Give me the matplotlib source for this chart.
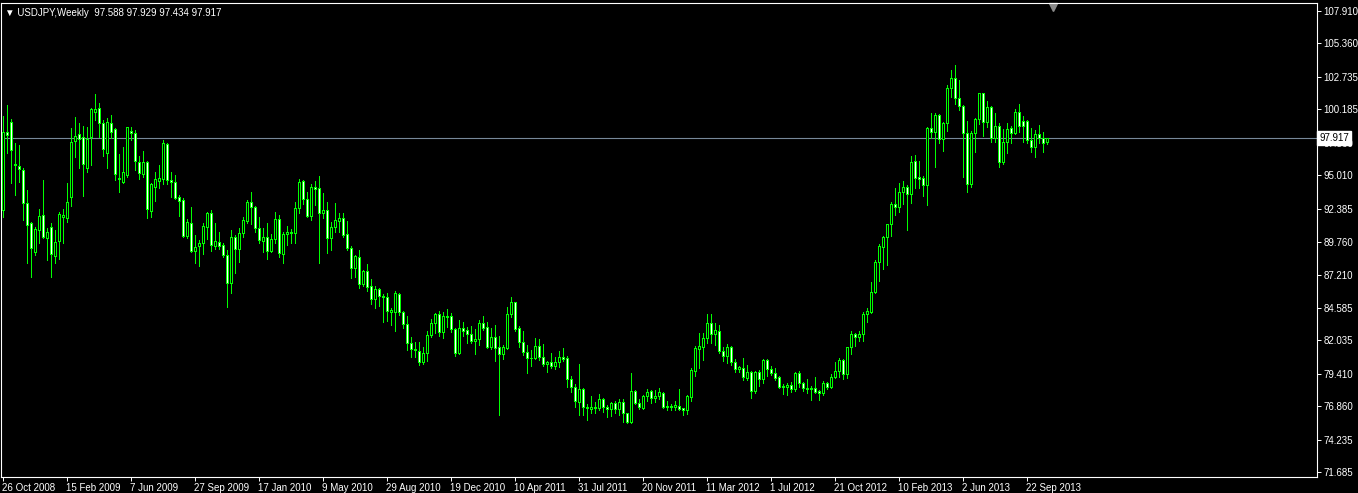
import matplotlib
matplotlib.use('Agg')
import matplotlib.pyplot as plt
import matplotlib.transforms as mtransforms

# weekly USDJPY candles, 26 Oct 2008 .. 27 Oct 2013
opens = [
    92.28, 98.43, 99.22, 95.87, 95.76, 95.42, 92.80, 91.23, 89.01, 90.71,
    91.86, 90.05, 90.92, 88.69, 89.87, 91.70, 91.63, 93.33, 97.73, 98.22,
    97.99, 95.55, 97.99, 100.00, 100.26, 99.09, 96.73, 99.14, 98.62, 94.77,
    94.51, 95.03, 98.48, 98.30, 96.08, 95.08, 96.03, 92.23, 94.11, 94.56,
    94.69, 97.47, 94.64, 94.45, 93.28, 93.07, 90.24, 91.29, 89.09, 89.48,
    89.66, 90.97, 92.02, 89.48, 89.79, 89.53, 88.75, 86.52, 90.13, 89.19,
    90.45, 91.44, 92.88, 92.49, 90.84, 89.87, 90.14, 89.09, 89.98, 91.55,
    88.83, 90.37, 90.53, 90.45, 92.41, 94.56, 93.12, 91.84, 94.06, 93.98,
    92.02, 92.28, 90.06, 90.92, 91.45, 91.63, 90.37, 89.32, 87.70, 88.57,
    86.44, 87.49, 86.31, 85.27, 86.08, 85.55, 85.42, 84.25, 84.25, 85.68,
    84.24, 83.30, 81.81, 81.33, 81.23, 80.31, 81.07, 82.43, 83.38, 84.08,
    82.72, 83.98, 83.95, 82.91, 81.02, 82.98, 82.85, 82.51, 82.02, 82.15,
    83.38, 83.06, 81.54, 82.28, 81.49, 80.94, 81.47, 84.08, 85.03, 82.98,
    81.94, 81.16, 80.69, 80.63, 81.60, 80.77, 80.16, 80.32, 80.03, 80.37,
    80.77, 80.63, 78.99, 78.36, 77.23, 78.20, 76.79, 76.68, 76.79, 76.76,
    77.44, 76.84, 76.63, 77.15, 76.66, 77.21, 76.31, 75.66, 78.07, 77.10,
    76.76, 77.68, 78.07, 77.55, 77.70, 77.88, 76.78, 76.88, 76.83, 76.91,
    76.70, 76.57, 77.62, 79.66, 81.36, 81.54, 82.25, 83.38, 82.51, 82.80,
    81.23, 80.84, 81.49, 80.31, 79.76, 79.90, 79.11, 79.58, 78.06, 79.58,
    78.98, 80.50, 79.76, 79.45, 79.14, 78.40, 78.40, 78.53, 78.19, 79.45,
    78.66, 78.32, 78.27, 78.27, 78.06, 77.88, 78.66, 78.40, 79.19, 79.63,
    80.50, 79.37, 81.49, 82.54, 82.28, 82.51, 84.08, 84.29, 85.81, 88.17,
    89.40, 90.13, 91.15, 92.72, 92.49, 93.66, 94.11, 93.51, 96.13, 94.90,
    94.77, 94.25, 98.70, 98.39, 99.75, 97.86, 99.09, 101.84, 102.68, 101.06,
    100.45, 98.31, 94.30, 98.31, 99.43, 101.45, 99.17, 100.35, 97.91, 98.88,
    96.03, 97.60, 98.70, 98.31, 99.96, 99.28, 99.28, 97.78, 97.21, 98.26,
    97.91, 97.588]

highs = [
    99.66, 100.53, 99.40, 97.52, 97.38, 95.55, 93.85, 91.36, 90.97, 92.33,
    94.64, 90.84, 91.23, 90.71, 92.15, 92.33, 94.37, 98.69, 99.56, 99.09,
    98.88, 98.77, 100.26, 101.39, 100.66, 99.35, 99.48, 99.74, 98.69, 96.68,
    97.25, 98.82, 98.82, 98.56, 96.52, 96.92, 96.10, 94.38, 95.29, 95.82,
    97.78, 97.57, 95.29, 95.03, 93.46, 93.25, 91.57, 92.49, 90.32, 89.93,
    91.23, 92.10, 92.28, 91.23, 90.53, 89.66, 89.14, 90.71, 90.32, 90.89,
    91.76, 93.07, 93.72, 92.60, 91.76, 90.89, 91.24, 90.40, 92.10, 91.89,
    90.58, 91.05, 90.79, 92.94, 94.72, 94.64, 93.72, 94.33, 94.56, 94.95,
    93.64, 92.94, 91.37, 92.86, 92.02, 92.02, 91.42, 89.46, 88.75, 89.14,
    87.57, 88.04, 86.84, 86.31, 86.18, 85.69, 85.79, 84.56, 85.92, 85.73,
    84.35, 83.95, 82.28, 81.88, 81.88, 81.49, 82.78, 83.69, 84.16, 84.35,
    84.24, 84.50, 84.16, 83.00, 83.64, 83.51, 83.11, 83.17, 82.91, 83.64,
    83.95, 83.51, 82.98, 83.25, 82.38, 81.68, 84.69, 85.42, 85.08, 83.17,
    82.78, 81.68, 81.29, 82.21, 82.13, 81.76, 80.43, 81.03, 80.71, 81.21,
    81.42, 80.82, 79.25, 78.59, 80.19, 78.28, 77.05, 77.68, 77.23, 77.83,
    77.49, 76.97, 77.23, 77.28, 77.44, 77.41, 76.37, 79.51, 78.15, 77.44,
    77.75, 78.20, 78.15, 78.15, 78.27, 77.96, 77.28, 77.04, 77.28, 78.22,
    76.75, 77.75, 79.90, 81.60, 82.59, 82.64, 84.11, 84.08, 83.38, 83.25,
    81.54, 81.73, 81.62, 80.55, 80.05, 80.63, 80.10, 79.63, 79.66, 79.71,
    80.55, 80.55, 80.03, 79.90, 79.24, 78.61, 78.72, 78.79, 79.58, 79.63,
    78.79, 79.00, 78.45, 79.16, 78.14, 78.85, 78.74, 79.37, 80.31, 80.63,
    80.55, 81.54, 82.77, 82.64, 82.77, 84.29, 84.55, 86.60, 88.35, 89.61,
    90.23, 91.20, 92.88, 93.98, 94.37, 94.55, 94.24, 96.52, 96.61, 96.13,
    94.96, 98.83, 99.88, 99.88, 99.83, 99.22, 102.10, 103.28, 103.67, 102.50,
    100.53, 99.28, 98.49, 99.54, 101.50, 101.50, 100.85, 100.45, 99.88, 99.09,
    98.65, 99.09, 98.88, 100.19, 100.59, 99.67, 99.32, 98.75, 98.57, 98.96,
    98.39, 97.929]

lows = [
    91.76, 96.73, 94.43, 93.46, 94.51, 91.49, 88.14, 87.04, 88.75, 89.66,
    90.05, 88.35, 87.04, 88.14, 88.43, 89.66, 91.36, 92.59, 96.47, 95.55,
    93.41, 95.29, 95.81, 99.35, 98.04, 96.55, 95.55, 97.91, 94.64, 93.72,
    94.37, 94.90, 97.78, 95.42, 94.72, 94.90, 91.68, 91.71, 93.01, 93.98,
    94.32, 94.32, 93.33, 93.12, 91.81, 90.13, 90.06, 89.01, 88.15, 87.91,
    88.80, 89.98, 89.09, 89.19, 89.19, 88.56, 84.69, 85.79, 87.31, 88.22,
    90.13, 91.23, 91.18, 90.53, 89.72, 89.01, 88.43, 89.01, 89.66, 88.62,
    88.09, 89.53, 89.66, 89.72, 92.02, 92.73, 91.76, 91.50, 92.67, 88.15,
    91.68, 88.88, 89.14, 90.58, 90.58, 90.14, 89.14, 86.92, 87.05, 86.13,
    86.31, 85.92, 84.90, 84.61, 84.74, 83.51, 83.57, 83.25, 82.81, 84.03,
    83.04, 81.28, 80.76, 80.76, 80.10, 80.18, 80.42, 82.33, 82.64, 82.41,
    82.25, 83.11, 82.67, 80.81, 80.97, 82.38, 81.81, 81.86, 80.97, 81.67,
    82.85, 81.47, 81.33, 80.44, 76.18, 80.58, 81.33, 83.85, 82.80, 81.54,
    80.89, 79.51, 80.03, 80.56, 80.50, 80.03, 79.59, 79.90, 79.80, 79.98,
    80.43, 78.41, 78.02, 76.84, 76.18, 76.18, 75.79, 76.31, 76.31, 76.58,
    76.45, 76.05, 76.11, 76.31, 76.18, 75.66, 75.53, 75.53, 77.02, 76.66,
    76.66, 77.31, 77.10, 77.23, 77.41, 76.70, 76.57, 76.57, 76.57, 76.57,
    76.20, 76.30, 77.30, 79.24, 79.90, 80.50, 81.86, 81.86, 81.68, 81.07,
    80.42, 80.24, 80.10, 79.58, 79.58, 78.93, 78.93, 77.54, 77.93, 78.46,
    78.72, 79.24, 79.32, 78.93, 78.27, 77.83, 77.75, 78.01, 78.09, 78.40,
    78.06, 77.88, 77.35, 77.88, 77.35, 77.75, 78.19, 78.27, 79.06, 79.19,
    78.98, 79.11, 80.97, 81.62, 82.01, 82.01, 83.51, 84.21, 85.73, 86.70,
    87.64, 87.96, 90.23, 91.88, 92.15, 92.75, 90.71, 92.85, 93.99, 93.99,
    93.41, 92.68, 97.91, 95.69, 97.52, 96.92, 98.49, 101.19, 100.59, 100.14,
    94.90, 93.73, 94.12, 96.87, 99.04, 98.12, 98.83, 97.65, 97.60, 95.69,
    95.90, 96.79, 97.52, 98.26, 98.39, 97.65, 97.52, 96.87, 96.48, 97.52,
    96.87, 97.434]

closes = [
    98.43, 98.17, 96.99, 95.81, 95.47, 92.80, 91.10, 89.27, 90.76, 91.81,
    90.13, 90.53, 88.82, 89.74, 91.94, 91.89, 92.93, 97.59, 98.12, 97.83,
    95.87, 97.83, 100.19, 100.19, 99.14, 97.04, 99.17, 98.38, 95.08, 94.69,
    95.24, 98.77, 98.30, 96.13, 95.16, 96.03, 92.33, 94.30, 94.69, 94.77,
    97.52, 94.64, 94.45, 93.25, 93.01, 90.24, 91.31, 89.09, 89.40, 89.66,
    91.02, 92.02, 89.51, 89.85, 89.48, 88.75, 86.52, 90.13, 89.19, 90.45,
    91.50, 92.91, 92.49, 90.84, 89.93, 90.13, 89.09, 89.98, 91.55, 88.88,
    90.40, 90.58, 90.45, 92.41, 94.51, 93.12, 91.84, 94.06, 93.96, 92.02,
    92.28, 90.06, 90.92, 91.50, 91.63, 90.32, 89.27, 87.70, 88.67, 86.44,
    87.49, 86.26, 85.27, 86.05, 85.53, 85.42, 84.38, 84.43, 85.74, 84.24,
    83.30, 81.81, 81.33, 81.25, 80.31, 81.07, 82.46, 83.38, 84.08, 82.72,
    83.95, 83.90, 82.91, 81.02, 82.98, 82.80, 82.51, 82.02, 82.12, 83.38,
    83.04, 81.54, 82.28, 81.47, 80.94, 81.49, 84.08, 85.03, 82.93, 81.94,
    81.15, 80.69, 80.63, 81.60, 80.77, 80.16, 80.32, 80.03, 80.37, 80.77,
    80.58, 78.99, 78.36, 77.28, 78.20, 76.79, 76.71, 76.79, 76.71, 77.44,
    76.84, 76.63, 77.10, 76.66, 77.21, 76.31, 75.66, 78.07, 77.10, 76.79,
    77.68, 78.02, 77.55, 77.70, 77.96, 76.78, 76.88, 76.83, 76.96, 76.65,
    76.57, 77.67, 79.71, 81.42, 81.60, 82.25, 83.38, 82.51, 82.85, 81.23,
    80.84, 81.49, 80.31, 79.76, 79.97, 79.14, 79.53, 78.06, 79.53, 78.98,
    80.50, 79.76, 79.45, 79.11, 78.40, 78.48, 78.53, 78.19, 79.45, 78.66,
    78.27, 78.22, 78.19, 78.01, 77.88, 78.66, 78.40, 79.19, 79.63, 80.50,
    79.37, 81.49, 82.54, 82.28, 82.54, 84.08, 84.34, 85.86, 88.17, 89.45,
    90.13, 91.15, 92.72, 92.49, 93.66, 94.11, 93.51, 96.07, 94.83, 94.72,
    94.25, 98.70, 98.39, 99.75, 97.86, 99.09, 101.84, 102.68, 101.06, 100.45,
    98.31, 94.30, 98.31, 99.43, 101.45, 99.17, 100.35, 97.91, 98.88, 96.03,
    97.60, 98.65, 98.31, 99.96, 98.91, 98.91, 97.78, 97.21, 98.26, 97.91,
    97.52, 97.917]

date_labels = ['26 Oct 2008', '15 Feb 2009', '7 Jun 2009', '27 Sep 2009', '17 Jan 2010',
               '9 May 2010', '29 Aug 2010', '19 Dec 2010', '10 Apr 2011', '31 Jul 2011',
               '20 Nov 2011', '11 Mar 2012', '1 Jul 2012', '21 Oct 2012', '10 Feb 2013',
               '2 Jun 2013', '22 Sep 2013']
price_ticks = [107.910, 105.360, 102.735, 100.185, 97.560, 95.010, 92.385, 89.760,
               87.210, 84.585, 82.035, 79.410, 76.860, 74.235, 71.685]
last_price = 97.917
title = '\u25bc USDJPY,Weekly  97.588 97.929 97.434 97.917'

plt.rcParams['font.family'] = ['Liberation Sans', 'DejaVu Sans']

GREEN = '#00ff00'
FS = 7

fig = plt.figure(figsize=(13.58, 4.93), dpi=100, facecolor='black')
ax = fig.add_axes([0.0007, 0.0331, 0.9691, 0.9614], facecolor='black')

n = len(closes)
xs = list(range(n))

# wicks
ax.vlines(xs, lows, highs, colors=GREEN, linewidth=0.7, antialiased=False, zorder=2)

# bodies: black = up week, white = down week
bottoms = [min(o, c) for o, c in zip(opens, closes)]
heights = [max(abs(c - o), 0.02) for o, c in zip(opens, closes)]
faces = ['black' if c >= o else 'white' for o, c in zip(opens, closes)]
ax.bar(xs, heights, bottom=bottoms, width=0.5, color=faces, edgecolor=GREEN,
       linewidth=0.7, antialiased=False, zorder=3)

# current price line
ax.axhline(last_price, color='#778899', linewidth=0.8, zorder=1)

ax.set_xlim(-0.625, 328.6)
ax.set_ylim(71.34, 108.56)

for s in ax.spines.values():
    s.set_color('white')
    s.set_linewidth(0.8)

ax.yaxis.tick_right()
ax.set_yticks(price_ticks)
ax.set_yticklabels(['%.3f' % p for p in price_ticks])
ax.tick_params(axis='y', colors='white', labelcolor='white', labelsize=FS,
               length=3, width=0.7, pad=1.5, direction='out')

ax.set_xticks([16 * k for k in range(len(date_labels))])
ax.set_xticklabels(date_labels, ha='left')
ax.tick_params(axis='x', colors='white', labelcolor='white', labelsize=FS,
               length=3, width=0.7, pad=1.5, direction='out')
offset = mtransforms.ScaledTranslation(-1 / 100, 0, fig.dpi_scale_trans)
for lbl in ax.get_xticklabels():
    lbl.set_transform(lbl.get_transform() + offset)

# price box on the axis
trans = mtransforms.blended_transform_factory(ax.transAxes, ax.transData)
ax.text(1.0016, last_price, '97.917', transform=trans, color='black', fontsize=FS,
        ha='left', va='center', zorder=10,
        bbox=dict(boxstyle='square,pad=0.2', facecolor='white', edgecolor='white'))

# header
ax.text(0.003, 0.988, title, transform=ax.transAxes, color='white', fontsize=FS,
        ha='left', va='top')

# chart shift marker
ax.plot([262.5], [0.992], marker='v', color='#8a8a8a', markersize=6,
        transform=mtransforms.blended_transform_factory(ax.transData, ax.transAxes),
        clip_on=False)

fig.savefig('out.png', dpi=100, facecolor='black')
